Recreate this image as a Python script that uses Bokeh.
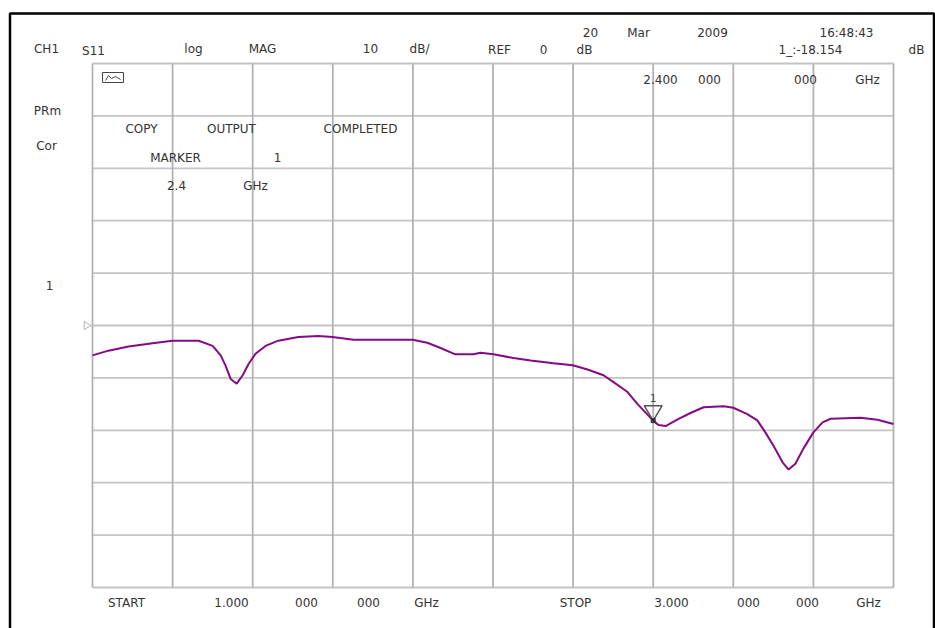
import math
from bokeh.plotting import figure
from bokeh.models import Range1d, ColumnDataSource
from bokeh.core.properties import value
from bokeh.embed import file_html
from bokeh.resources import INLINE

# ---------------- data ----------------
freq_ghz = [1.000, 1.040, 1.090, 1.150, 1.200, 1.265, 1.300, 1.320, 1.332, 1.345,
            1.360, 1.375, 1.390, 1.407, 1.432, 1.464, 1.514, 1.564, 1.599, 1.652,
            1.799, 1.836, 1.869, 1.906, 1.951, 1.969, 2.001, 2.051, 2.094, 2.151,
            2.199, 2.236, 2.276, 2.301, 2.336, 2.361, 2.400, 2.413, 2.431, 2.461,
            2.493, 2.526, 2.576, 2.600, 2.635, 2.660, 2.680, 2.700, 2.723, 2.738,
            2.755, 2.775, 2.800, 2.823, 2.843, 2.918, 2.960, 3.000]
s11_db = [-5.7, -4.8, -4.0, -3.4, -2.9, -2.9, -3.9, -5.7, -7.6, -10.2,
          -11.1, -9.5, -7.3, -5.4, -3.9, -2.9, -2.2, -2.0, -2.2, -2.7,
          -2.7, -3.3, -4.3, -5.5, -5.5, -5.2, -5.5, -6.2, -6.7, -7.2,
          -7.6, -8.4, -9.5, -10.8, -12.7, -15.0, -18.154, -19.0, -19.2, -17.9,
          -16.7, -15.6, -15.4, -15.7, -16.9, -18.1, -20.4, -22.9, -26.1, -27.5,
          -26.4, -23.5, -20.4, -18.5, -17.8, -17.6, -18.0, -18.8]

freq_ticks = [1.0, 1.2, 1.4, 1.6, 1.8, 2.0, 2.2, 2.4, 2.6, 2.8, 3.0]
db_ticks = [-50, -40, -30, -20, -10, 0, 10, 20, 30, 40, 50]
ref_db = 0
marker_freq = [2.4]
marker_db = [-18.154]

# ---------------- layout (pixels) ----------------
W, H = 935, 628
FL, FR, FT, FB = 92, 893, 63, 587
f_start, f_stop = freq_ticks[0], freq_ticks[-1]
db_top, db_bot = db_ticks[-1], db_ticks[0]
sx = (FR - FL) / (f_stop - f_start)
sy = (FB - FT) / (db_top - db_bot)


def X(px):
    return f_start + (px - FL) / sx


def Y(py):
    return db_top - (py - FT) / sy


p = figure(width=W, height=H, x_range=Range1d(X(0), X(W)), y_range=Range1d(Y(H), Y(0)),
           output_backend="svg", toolbar_location=None, min_border=0,
           x_axis_type=None, y_axis_type=None)
p.grid.visible = False
p.outline_line_color = None
p.background_fill_color = "white"
p.border_fill_color = "white"

# grid
n = len(freq_ticks)
m = len(db_ticks)
p.segment(x0=[f_start] * m, y0=db_ticks, x1=[f_stop] * m, y1=db_ticks,
          line_color="#c4c4c4", line_width=1.8)
p.segment(x0=freq_ticks, y0=[db_bot] * n, x1=freq_ticks, y1=[db_top] * n,
          line_color="#b2b2b2", line_width=1.8)

# outer instrument frame
p.line(x=[X(9.5), X(9.5), X(933.5), X(933.5)], y=[Y(660), Y(13), Y(13), Y(660)],
       line_color="black", line_width=2.5)

# trace
p.line(freq_ghz, s11_db, line_color="#850a85", line_width=2)

# reference level indicator
p.scatter(x=[X(86)], y=[ref_db], marker="triangle", angle=-math.pi / 2, size=8,
          fill_color="white", line_color="#b0b0b0", line_width=1)

# marker 1
mx, my = marker_freq[0], marker_db[0]
p.patch(x=[mx - 9 / sx, mx + 9 / sx, mx], y=[my + 15 / sy, my + 15 / sy, my],
        fill_color=None, line_color="#555555", line_width=1.5)
p.scatter(x=[mx], y=[my], marker="square", size=4, fill_color="#333333", line_color="#333333")
p.text(x=[mx], y=[my + 23 / sy], text=["1"], text_align="center", text_baseline="middle",
       text_font=value("DejaVu Sans"), text_font_size="10px", text_color="#444444")

# hold icon
p.quad(left=[X(102)], right=[X(123)], top=[Y(72)], bottom=[Y(82)],
       fill_color=None, line_color="#444444", line_width=1)
p.line(x=[X(105), X(108), X(111), X(115), X(120)], y=[Y(80), Y(75), Y(78), Y(76), Y(79)],
       line_color="#444444", line_width=1)

# texts: (text, centre x px, centre y px)
texts = [
    ("20", 590, 32), ("Mar", 638, 32), ("2009", 712, 32), ("16:48:43", 846, 32),
    ("CH1", 46, 48), ("S11", 93, 50), ("log", 193, 48), ("MAG", 262, 48),
    ("10", 370, 48), ("dB/", 419, 48), ("REF", 499, 49), ("0", 543, 49), ("dB", 584, 49),
    ("1_:-18.154", 810, 49), ("dB", 916, 49),
    ("2.400", 660, 79), ("000", 709, 79), ("000", 805, 79), ("GHz", 867, 79),
    ("PRm", 47, 110), ("Cor", 46, 145),
    ("COPY", 141, 128), ("OUTPUT", 231, 128), ("COMPLETED", 360, 128),
    ("MARKER", 175, 157), ("1", 277, 157),
    ("2.4", 176, 185), ("GHz", 255, 185),
    ("1", 49, 285),
    ("START", 126, 602), ("1.000", 231, 602), ("000", 306, 602), ("000", 368, 602), ("GHz", 426, 602),
    ("STOP", 575, 602), ("3.000", 671, 602), ("000", 748, 602), ("000", 807, 602), ("GHz", 868, 602),
]
src = ColumnDataSource(dict(x=[X(t[1]) for t in texts], y=[Y(t[2]) for t in texts],
                            text=[t[0] for t in texts]))
p.text(x="x", y="y", text="text", source=src, text_align="center", text_baseline="middle",
       text_font=value("DejaVu Sans"), text_font_size="12px", text_color="#333333")

open("out.html", "w").write(file_html(p, INLINE))
